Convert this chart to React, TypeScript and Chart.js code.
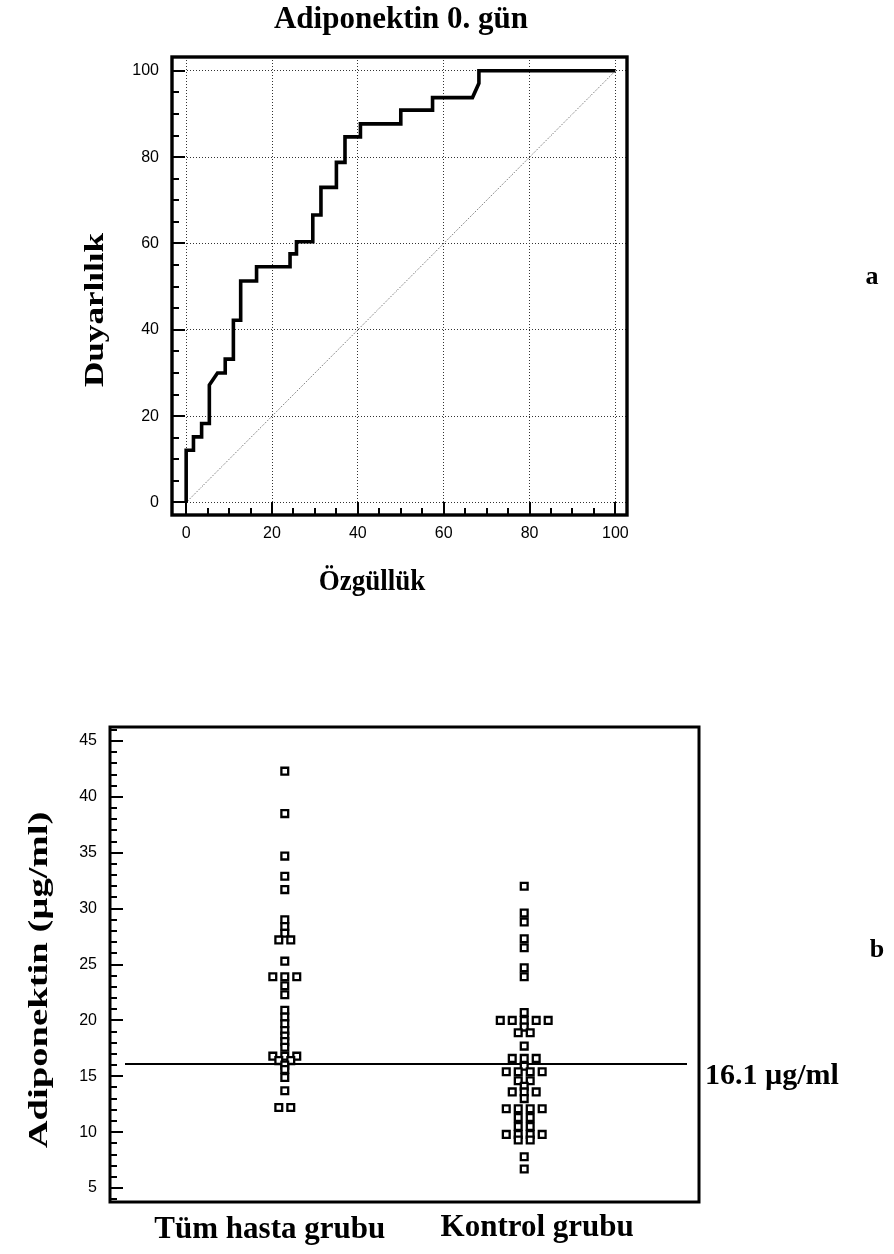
import React, { useEffect, useRef } from "react";
import { Chart, registerables } from "chart.js";

Chart.register(...registerables);

const SERIF = '"Liberation Serif", "Times New Roman", serif';
const SANS = '"Liberation Sans", Arial, sans-serif';

// ---------- Panel a: ROC curve ----------
const rocSpecificity = [0, 0, 1.7, 1.7, 3.6, 3.6, 5.4, 5.4, 7.3, 9.1, 9.1, 11.0, 11.0, 12.7, 12.7, 16.4, 16.4, 24.2, 24.2, 25.7, 25.7, 29.5, 29.5, 31.4, 31.4, 35.0, 35.0, 37.0, 37.0, 40.6, 40.6, 50.0, 50.0, 57.4, 57.4, 66.7, 68.2, 68.2, 100];
const rocSensitivity = [0, 12.1, 12.1, 15.2, 15.2, 18.3, 18.3, 27.2, 30.0, 30.0, 33.2, 33.2, 42.2, 42.2, 51.3, 51.3, 54.6, 54.6, 57.6, 57.6, 60.4, 60.4, 66.6, 66.6, 73.0, 73.0, 78.8, 78.8, 84.7, 84.7, 87.7, 87.7, 90.9, 90.9, 93.8, 93.8, 97.1, 100, 100];
const diagonal = [0, 100];
const rocTicks = [0, 20, 40, 60, 80, 100];
const rocTitle = "Adiponektin 0. gün";
const rocXTitle = "Özgüllük";
const rocYTitle = "Duyarlılık";

// ---------- Panel b: dot plot ----------
const groupLabels = ["Tüm hasta grubu", "Kontrol grubu"];
const hastaValues = [42.3, 38.5, 34.7, 32.9, 31.7, 29.0, 28.4, 27.8, 27.2, 27.2, 25.3, 23.9, 23.9, 23.9, 23.1, 22.3, 20.9, 20.3, 19.7, 19.1, 18.6, 18.1, 17.6, 16.8, 16.8, 16.8, 16.4, 16.4, 16.0, 15.6, 14.9, 13.7, 12.2, 12.2];
const kontrolValues = [32.0, 29.6, 28.8, 27.3, 26.5, 24.7, 23.9, 20.7, 20.0, 20.0, 20.0, 20.0, 20.0, 19.4, 18.9, 18.9, 17.7, 16.6, 16.6, 16.6, 15.9, 15.4, 15.4, 15.4, 15.4, 14.6, 14.6, 14.1, 13.6, 13.6, 13.6, 13.0, 12.1, 12.1, 12.1, 12.1, 11.3, 11.3, 10.5, 10.5, 9.8, 9.8, 9.8, 9.8, 9.3, 9.3, 7.8, 6.7];
const dotTicks = [5, 10, 15, 20, 25, 30, 35, 40, 45];
const cutoff = 16.1;
const cutoffLabel = "16.1 µg/ml";
const dotYTitle = "Adiponektin (µg/ml)";

// identical values are laid out side by side, symmetric around the group centre
function spread(values: number[], center: number, slot: number) {
  const counts = new Map<number, number>();
  values.forEach((v) => counts.set(v, (counts.get(v) || 0) + 1));
  const seen = new Map<number, number>();
  return values.map((v) => {
    const n = counts.get(v) as number;
    const i = seen.get(v) || 0;
    seen.set(v, i + 1);
    return { x: center + (i - (n - 1) / 2) * slot, y: v };
  });
}

function txt(
  ctx: CanvasRenderingContext2D,
  s: string,
  x: number,
  y: number,
  size: number,
  o: { align?: CanvasTextAlign; baseline?: CanvasTextBaseline; rot?: number; sx?: number; family?: string; weight?: string } = {}
) {
  ctx.save();
  ctx.translate(x, y);
  if (o.rot) ctx.rotate(o.rot);
  ctx.scale(o.sx ?? 1, 1);
  ctx.font = `${o.weight ?? "bold"} ${size}px ${o.family ?? SERIF}`;
  ctx.fillStyle = "#000";
  ctx.textAlign = o.align ?? "center";
  ctx.textBaseline = o.baseline ?? "middle";
  ctx.fillText(s, 0, 0);
  ctx.restore();
}

function drawFrame(chart: any, w: number) {
  const { ctx, chartArea: a } = chart;
  ctx.save();
  ctx.strokeStyle = "#000";
  ctx.lineWidth = w;
  ctx.strokeRect(a.left, a.top, a.right - a.left, a.bottom - a.top);
  ctx.restore();
}

function inwardTicks(chart: any, axis: "x" | "y", from: number, to: number, minorStep: number, majorStep: number, minorLen: number, majorLen: number) {
  const { ctx, chartArea: a } = chart;
  const scale = chart.scales[axis];
  ctx.save();
  ctx.strokeStyle = "#000";
  ctx.lineWidth = 2;
  ctx.beginPath();
  for (let v = from; v <= to + 1e-9; v += minorStep) {
    const isMajor = Math.abs(v / majorStep - Math.round(v / majorStep)) < 1e-6;
    const len = isMajor ? majorLen : minorLen;
    const p = Math.round(scale.getPixelForValue(v));
    if (axis === "x") {
      ctx.moveTo(p, a.bottom);
      ctx.lineTo(p, a.bottom - len);
    } else {
      ctx.moveTo(a.left, p);
      ctx.lineTo(a.left + len, p);
    }
  }
  ctx.stroke();
  ctx.restore();
}

function RocChart() {
  const ref = useRef<HTMLCanvasElement>(null);
  useEffect(() => {
    const canvas = ref.current as HTMLCanvasElement;
    const gridStyle = { display: true, drawTicks: false, color: "#333", lineWidth: 1 };
    const chart = new Chart(canvas, {
      type: "line",
      data: {
        datasets: [
          {
            data: rocSpecificity.map((x, i) => ({ x, y: rocSensitivity[i] })),
            borderColor: "#000",
            borderWidth: 3.6,
            pointRadius: 0,
            tension: 0,
            borderJoinStyle: "miter",
            fill: false,
          },
          {
            data: diagonal.map((v) => ({ x: v, y: v })),
            borderColor: "#555",
            borderWidth: 1,
            borderDash: [1, 1.5],
            pointRadius: 0,
            fill: false,
          },
        ],
      },
      options: {
        animation: false,
        responsive: false,
        devicePixelRatio: 1,
        layout: { padding: { left: 0, top: 57, right: 267, bottom: 95 } },
        plugins: { legend: { display: false }, tooltip: { enabled: false }, title: { display: false } },
        scales: {
          x: {
            type: "linear",
            min: -3.3,
            max: 102.7,
            afterBuildTicks: (s: any) => {
              s.ticks = rocTicks.map((v) => ({ value: v }));
            },
            afterFit: (s: any) => {
              s.height = 30;
            },
            grid: gridStyle,
            border: { display: false, dash: [1, 2] },
            ticks: { color: "#000", font: { family: SANS, size: 16 }, padding: 9, maxRotation: 0, autoSkip: false },
          },
          y: {
            type: "linear",
            min: -2.9,
            max: 103.2,
            afterBuildTicks: (s: any) => {
              s.ticks = rocTicks.map((v) => ({ value: v }));
            },
            afterFit: (s: any) => {
              s.width = 172;
            },
            grid: gridStyle,
            border: { display: false, dash: [1, 2] },
            ticks: { color: "#000", font: { family: SANS, size: 16 }, padding: 13, autoSkip: false },
          },
        },
      },
      plugins: [
        {
          id: "rocDecor",
          afterDraw(c: any) {
            drawFrame(c, 3.4);
            inwardTicks(c, "x", 0, 100, 5, 20, 7, 13);
            inwardTicks(c, "y", 0, 100, 5, 20, 7, 13);
            const ctx = c.ctx;
            txt(ctx, rocTitle, 401, 28, 31, { baseline: "alphabetic" });
            txt(ctx, rocXTitle, 372, 582, 30, { sx: 0.9 });
            txt(ctx, rocYTitle, 96, 310, 27, { rot: -Math.PI / 2, sx: 1.3 });
            txt(ctx, "a", 872, 277, 26);
          },
        },
      ],
    } as any);
    return () => chart.destroy();
  }, []);
  return <canvas ref={ref} width={894} height={640} style={{ position: "absolute", left: 0, top: 0, width: 894, height: 640 }} />;
}

function DotChart() {
  const ref = useRef<HTMLCanvasElement>(null);
  useEffect(() => {
    const canvas = ref.current as HTMLCanvasElement;
    const slot = 0.05;
    const pointStyle = {
      pointStyle: "rect",
      pointRadius: 4.8,
      borderWidth: 2.3,
      borderColor: "#000",
      backgroundColor: "#fff",
      showLine: false,
    };
    const chart = new Chart(canvas, {
      type: "scatter",
      data: {
        datasets: [
          { data: spread(hastaValues, 1, slot), ...pointStyle },
          { data: spread(kontrolValues, 2, slot), ...pointStyle },
        ],
      },
      options: {
        animation: false,
        responsive: false,
        devicePixelRatio: 1,
        layout: { padding: { left: 0, top: 87, right: 195, bottom: 0 } },
        plugins: { legend: { display: false }, tooltip: { enabled: false }, title: { display: false } },
        scales: {
          x: {
            type: "linear",
            min: 0.27,
            max: 2.73,
            afterBuildTicks: (s: any) => {
              s.ticks = groupLabels.map((_, i) => ({ value: i + 1 }));
            },
            afterFit: (s: any) => {
              s.height = 52;
            },
            grid: { display: false },
            border: { display: false },
            ticks: { display: false },
          },
          y: {
            type: "linear",
            min: 3.75,
            max: 46.25,
            afterBuildTicks: (s: any) => {
              s.ticks = dotTicks.map((v) => ({ value: v }));
            },
            afterFit: (s: any) => {
              s.width = 110;
            },
            grid: { display: false, drawTicks: false },
            border: { display: false },
            ticks: { color: "#000", font: { family: SANS, size: 16 }, padding: 13, autoSkip: false },
          },
        },
      },
      plugins: [
        {
          id: "cutoffLine",
          beforeDatasetsDraw(c: any) {
            const { ctx, chartArea: a } = c;
            const y = c.scales.y.getPixelForValue(cutoff);
            ctx.save();
            ctx.strokeStyle = "#000";
            ctx.lineWidth = 2;
            ctx.beginPath();
            ctx.moveTo(a.left + 15, y);
            ctx.lineTo(a.right - 12, y);
            ctx.stroke();
            ctx.restore();
          },
        },
        {
          id: "dotDecor",
          afterDraw(c: any) {
            drawFrame(c, 3);
            inwardTicks(c, "y", 4, 46, 1, 5, 7, 13);
            const ctx = c.ctx;
            const xs = c.scales.x;
            const base = c.chartArea.bottom;
            // group labels under their columns
            txt(ctx, groupLabels[0], xs.getPixelForValue(1) - 15, base + 36, 31, { baseline: "alphabetic" });
            txt(ctx, groupLabels[1], xs.getPixelForValue(2) + 13, base + 34, 31, { baseline: "alphabetic" });
            const y = c.scales.y.getPixelForValue(cutoff);
            txt(ctx, cutoffLabel, 705, y + 20, 30, { align: "left", baseline: "alphabetic" });
            txt(ctx, dotYTitle, 40, 340, 27, { rot: -Math.PI / 2, sx: 1.43 });
            txt(ctx, "b", 877, 310, 26);
          },
        },
      ],
    } as any);
    return () => chart.destroy();
  }, []);
  return <canvas ref={ref} width={894} height={614} style={{ position: "absolute", left: 0, top: 640, width: 894, height: 614 }} />;
}

export default function App() {
  useEffect(() => {
    document.body.style.margin = "0";
    document.body.style.background = "#fff";
  }, []);
  return (
    <div style={{ position: "relative", width: 894, height: 1254, background: "#fff", overflow: "hidden" }}>
      <RocChart />
      <DotChart />
    </div>
  );
}
